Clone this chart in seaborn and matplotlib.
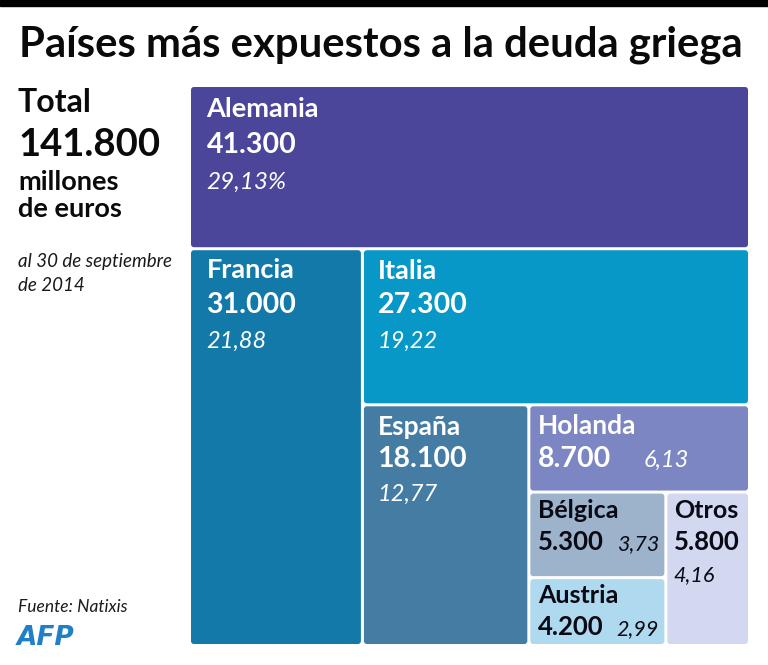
import matplotlib
matplotlib.use('Agg')
import matplotlib.pyplot as plt
from matplotlib.patches import FancyBboxPatch, Rectangle
import seaborn as sns

# millones de euros, al 30 de septiembre de 2014
paises = ['Alemania', 'Francia', 'Italia', 'España', 'Holanda', 'Bélgica', 'Austria', 'Otros']
valores = [41300, 31000, 27300, 18100, 8700, 5300, 4200, 5800]
porcentajes = ['29,13%', '21,88', '19,22', '12,77', '6,13', '3,73', '2,99', '4,16']
total = 141800

colores = ['#4b4699', '#1379a9', '#0798c7', '#457ca3', '#7c86c3', '#9cb3cb', '#afd9ef', '#d1d8f0']
colores_texto = ['white'] * 5 + ['#0a0a14'] * 3

# como se corta el cuadrado: cada nivel alterna horizontal y vertical
arbol = [0, [1, [2, [3, [4, [[5, 6], 7]]]]]]

# offsets de texto en pixeles desde la esquina de cada celda
dx_texto = [17, 17, 15, 15, 9, 9, 9, 8]
dx_pct = [17, 17, 15, 15, 115, 88, 88, 8]
dy_nombre = [31, 29, 30, 30, 29, 26, 25, 26]
dy_valor = [67, 64, 64, 62, 62, 58, 57, 58]
dy_pct = [103, 99, 99, 96, 62, 58, 57, 89]
size_nombre = [19.5, 19.5, 19.5, 19, 19, 18, 18, 18]
size_valor = [20.5, 20.5, 20.5, 20.5, 20.5, 18.5, 18.5, 18.5]
size_pct = [17.5, 17, 17, 17, 17, 15.5, 15.5, 15.5]

W, H = 768, 665
AX_X, AX_Y, AX_LADO = 189.5, 85.5, 560
GAP = 1.5  # medio hueco entre celdas, en pixeles


def suma(nodo):
    if isinstance(nodo, int):
        return valores[nodo]
    return sum(suma(n) for n in nodo)


def cortar(nodo, x, y, w, h, vertical, celdas):
    """Reparte el rectangulo segun los valores, alternando la direccion del corte."""
    if isinstance(nodo, int):
        celdas[nodo] = (x, y, w, h)
        return
    t = suma(nodo)
    for hijo in nodo:
        f = suma(hijo) / t
        if vertical:
            cortar(hijo, x, y, w, h * f, False, celdas)
            y += h * f
        else:
            cortar(hijo, x, y, w * f, h, True, celdas)
            x += w * f


def px(x, y):
    return x / W, 1 - y / H


sns.set_theme(style='white')
plt.rcParams['font.family'] = ['Lato', 'DejaVu Sans']

fig = plt.figure(figsize=(W / 100, H / 100), dpi=100, facecolor='white')
fig.add_artist(Rectangle((0, 1 - 6 / H), 1, 6 / H, transform=fig.transFigure, color='black'))

ax = fig.add_axes([AX_X / W, 1 - (AX_Y + AX_LADO) / H, AX_LADO / W, AX_LADO / H])
ax.set_xlim(0, total)
ax.set_ylim(total, 0)
ax.axis('off')
sns.despine(ax=ax, left=True, bottom=True)

celdas = {}
cortar(arbol, 0, 0, total, total, True, celdas)
esc = total / AX_LADO

for i, pais in enumerate(paises):
    x, y, w, h = celdas[i]
    g = GAP * esc
    r = 3 * esc
    ax.add_patch(FancyBboxPatch((x + g + r, y + g + r), w - 2 * g - 2 * r, h - 2 * g - 2 * r,
                                boxstyle='round,pad=%f,rounding_size=%f' % (r, r),
                                facecolor=colores[i], edgecolor='none'))
    c = colores_texto[i]
    valor = f'{valores[i]:,}'.replace(',', '.')
    ax.annotate(pais, (x, y), xytext=(dx_texto[i], -dy_nombre[i]), textcoords='offset pixels',
                color=c, fontsize=size_nombre[i], fontweight='bold', va='baseline')
    ax.annotate(valor, (x, y), xytext=(dx_texto[i], -dy_valor[i]), textcoords='offset pixels',
                color=c, fontsize=size_valor[i], fontweight='bold', va='baseline')
    ax.annotate(porcentajes[i], (x, y), xytext=(dx_pct[i], -dy_pct[i]), textcoords='offset pixels',
                color=c, fontsize=size_pct[i], fontstyle='italic', va='baseline')

fig.text(*px(19, 56), 'Países más expuestos a la deuda griega', fontsize=30.2, fontweight='bold',
         color='#0a0a0a', va='baseline')
fig.text(*px(18, 112), 'Total', fontsize=23, fontweight='bold', color='#0a0a0a', va='baseline')
fig.text(*px(18, 156), f'{total:,}'.replace(',', '.'), fontsize=27.5, fontweight='bold', color='#0a0a0a', va='baseline')
fig.text(*px(18, 190), 'millones', fontsize=19.5, fontweight='bold', color='#0a0a0a', va='baseline')
fig.text(*px(18, 217), 'de euros', fontsize=19.5, fontweight='bold', color='#0a0a0a', va='baseline')
fig.text(*px(18, 267), 'al 30 de septiembre', fontsize=13.5, fontstyle='italic', color='#1a1a1a', va='baseline')
fig.text(*px(18, 291), 'de 2014', fontsize=13.5, fontstyle='italic', color='#1a1a1a', va='baseline')
fig.text(*px(18, 612), 'Fuente: Natixis', fontsize=12.5, fontstyle='italic', color='#1a1a1a', va='baseline')
fig.text(*px(17, 645), 'AFP', fontsize=19, fontstyle='italic', fontweight='bold', family='DejaVu Sans',
         color='#1f7fc8', va='baseline')

fig.savefig('out.png', dpi=100)
